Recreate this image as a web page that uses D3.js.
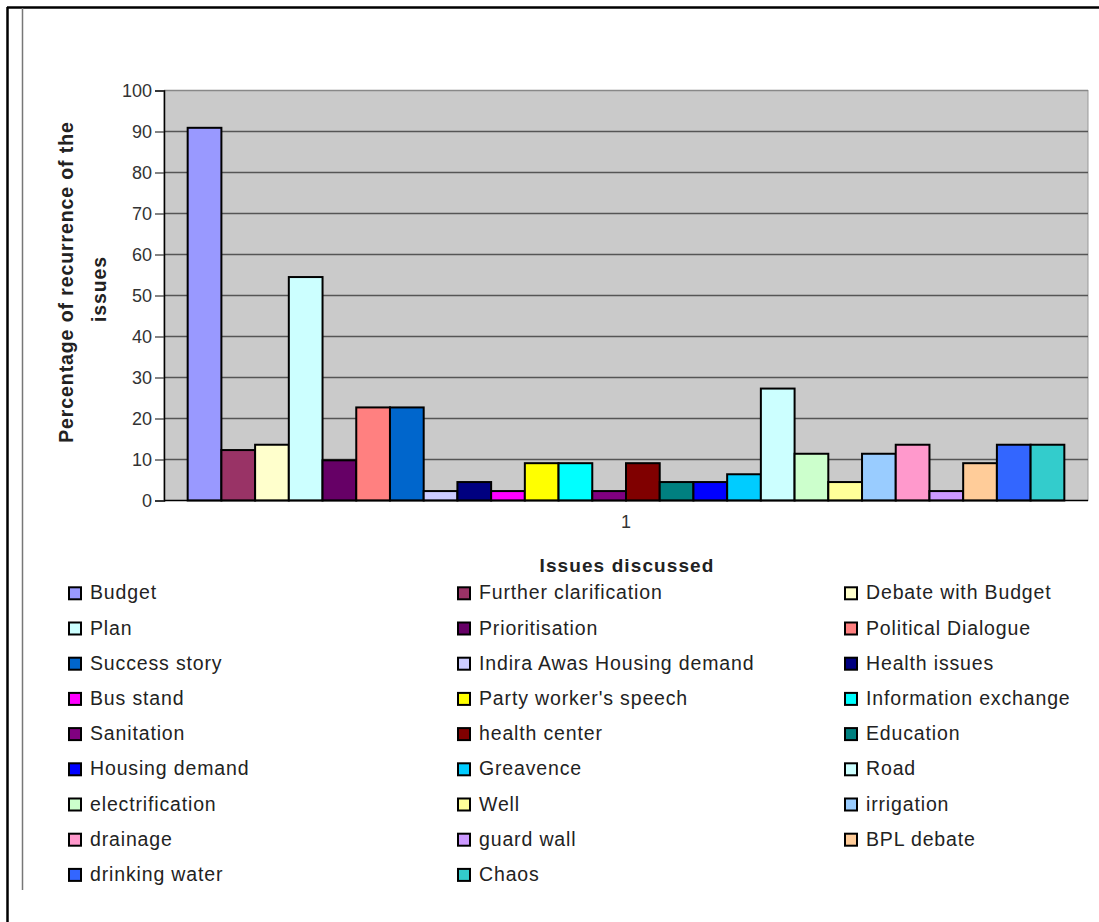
<!DOCTYPE html>
<html>
<head>
<meta charset="utf-8">
<script src="https://cdn.jsdelivr.net/npm/d3@7"></script>
<style>
  html, body { margin: 0; padding: 0; background: #fff; }
  svg { display: block; font-family: "Liberation Sans", Arial, sans-serif; }
</style>
</head>
<body>
<svg id="chart" width="1099" height="922"></svg>
<script>
// ---- data ----
const categories = ["1"];
const seriesNames = [
  "Budget", "Further clarification", "Debate with Budget", "Plan", "Prioritisation",
  "Political Dialogue", "Success story", "Indira Awas Housing demand", "Health issues",
  "Bus stand", "Party worker's speech", "Information exchange", "Sanitation",
  "health center", "Education", "Housing demand", "Greavence", "Road",
  "electrification", "Well", "irrigation", "drainage", "guard wall", "BPL debate",
  "drinking water", "Chaos"
];
const seriesValues = [
  90.9, 12.3, 13.6, 54.5, 9.8,
  22.7, 22.7, 2.3, 4.5,
  2.3, 9.1, 9.1, 2.3,
  9.1, 4.5, 4.5, 6.4, 27.3,
  11.4, 4.5, 11.4, 13.6, 2.3, 9.1,
  13.6, 13.6
];
const seriesColors = [
  "#9999FF", "#993366", "#FFFFCC", "#CCFFFF", "#660066",
  "#FF8080", "#0066CC", "#CCCCFF", "#000080",
  "#FF00FF", "#FFFF00", "#00FFFF", "#800080",
  "#800000", "#008080", "#0000FF", "#00CCFF", "#CCFFFF",
  "#CCFFCC", "#FFFF99", "#99CCFF", "#FF99CC", "#CC99FF", "#FFCC99",
  "#3366FF", "#33CCCC"
];
const yTicks = [0, 10, 20, 30, 40, 50, 60, 70, 80, 90, 100];
const yTitleLines = ["Percentage of recurrence of the", "issues"];
const xTitle = "Issues discussed";

// ---- layout ----
const svg = d3.select("#chart");
const plot = { left: 164, right: 1088, top: 90.5, bottom: 500.5 };

// outer frame
svg.append("line").attr("x1", 7).attr("x2", 1099).attr("y1", 7.5).attr("y2", 7.5)
  .attr("stroke", "#000").attr("stroke-width", 2.5);
svg.append("line").attr("x1", 7.5).attr("x2", 7.5).attr("y1", 7).attr("y2", 922)
  .attr("stroke", "#000").attr("stroke-width", 2.5);
svg.append("line").attr("x1", 22.5).attr("x2", 22.5).attr("y1", 8).attr("y2", 890)
  .attr("stroke", "#777").attr("stroke-width", 1.5);

const y = d3.scaleLinear().domain([0, 100]).range([plot.bottom, plot.top]);
const x0 = d3.scaleBand().domain(categories).range([plot.left, plot.right])
  .paddingInner(0).paddingOuter(0.027);
const x1 = d3.scaleBand().domain(seriesNames).range([0, x0.bandwidth()]).padding(0);

// plot background
svg.append("rect")
  .attr("x", plot.left).attr("y", plot.top)
  .attr("width", plot.right - plot.left).attr("height", plot.bottom - plot.top)
  .attr("fill", "#cacaca").attr("stroke", "#999").attr("stroke-width", 1);

// gridlines
svg.append("g").selectAll("line").data(yTicks.filter(d => d > 0)).join("line")
  .attr("x1", plot.left).attr("x2", plot.right)
  .attr("y1", d => y(d)).attr("y2", d => y(d))
  .attr("stroke", d => d === 100 ? "#888" : "#555").attr("stroke-width", 1.6);

// bars
const data = seriesNames.map((name, i) => ({ name, value: seriesValues[i], color: seriesColors[i] }));
svg.append("g")
  .attr("transform", `translate(${x0(categories[0])},0)`)
  .selectAll("rect").data(data).join("rect")
  .attr("x", d => x1(d.name))
  .attr("y", d => y(d.value))
  .attr("width", x1.bandwidth())
  .attr("height", d => y(0) - y(d.value))
  .attr("fill", d => d.color)
  .attr("stroke", "#000").attr("stroke-width", 2);

// y axis
const yAxis = svg.append("g")
  .attr("transform", `translate(${plot.left},0)`)
  .call(d3.axisLeft(y).tickValues(yTicks).tickSize(9).tickPadding(3).tickFormat(d3.format("d")));
yAxis.select(".domain").attr("stroke", "#000").attr("stroke-width", 1.5);
yAxis.selectAll(".tick line").attr("stroke", "#333").attr("stroke-width", 1.2);
yAxis.selectAll(".tick text")
  .attr("font-size", 18).attr("fill", "#333")
  .attr("font-family", "'Liberation Sans', Arial, sans-serif");

// x axis
const xAxis = svg.append("g")
  .attr("transform", `translate(0,${plot.bottom})`)
  .call(d3.axisBottom(x0).tickSize(0).tickPadding(15));
xAxis.select(".domain").attr("stroke", "#000").attr("stroke-width", 1.5)
  .attr("d", `M${plot.left},0H${plot.right}`);
xAxis.selectAll(".tick text")
  .attr("font-size", 18).attr("fill", "#333")
  .attr("font-family", "'Liberation Sans', Arial, sans-serif");

// y title
const yt = svg.append("text")
  .attr("transform", "rotate(-90)")
  .attr("text-anchor", "middle")
  .attr("font-weight", "bold").attr("font-size", 19.5).attr("fill", "#222")
  .attr("letter-spacing", 0.9);
yt.append("tspan").attr("x", -282).attr("y", 73).text(yTitleLines[0]);
yt.append("tspan").attr("x", -289).attr("y", 106).text(yTitleLines[1]);

// x title
svg.append("text")
  .attr("x", (plot.left + plot.right) / 2 + 1).attr("y", 572)
  .attr("text-anchor", "middle")
  .attr("font-weight", "bold").attr("font-size", 19).attr("fill", "#222")
  .attr("letter-spacing", 1.1)
  .text(xTitle);

// legend
const colX = [69, 458, 845];
const rowBase = 599.3, rowStep = 35.2;
const legend = svg.append("g").selectAll("g").data(data).join("g")
  .attr("transform", (d, i) => `translate(${colX[i % 3]},${rowBase + Math.floor(i / 3) * rowStep})`);
legend.append("rect")
  .attr("x", 0).attr("y", -12).attr("width", 12).attr("height", 12)
  .attr("fill", d => d.color).attr("stroke", "#000").attr("stroke-width", 2);
legend.append("text")
  .attr("x", 21).attr("y", 0)
  .attr("font-size", 19.5).attr("fill", "#222")
  .attr("letter-spacing", 0.85)
  .text(d => d.name);
</script>
</body>
</html>
